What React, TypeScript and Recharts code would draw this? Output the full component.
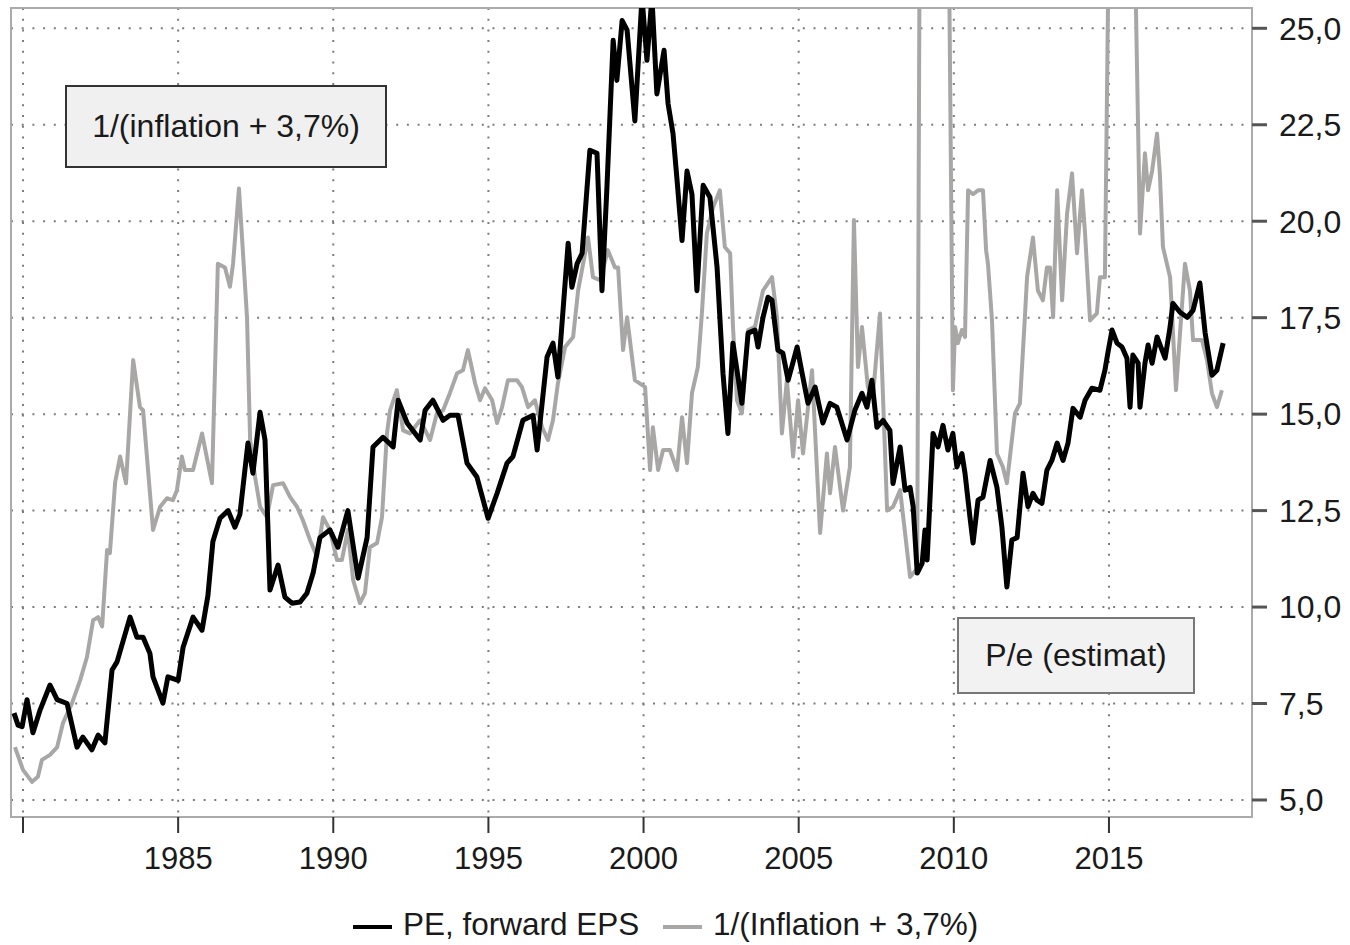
import React from "react";
import {
  LineChart, Line, XAxis, YAxis, CartesianGrid, ReferenceArea,
} from "recharts";

// PE, forward EPS (black)
const peDates = [
  1979.71, 1979.84, 1979.97, 1980.13, 1980.32, 1980.55, 1980.87, 1981.10, 1981.42, 1981.74,
  1981.93, 1982.22, 1982.42, 1982.64, 1982.87, 1983.03, 1983.45, 1983.67, 1983.87, 1984.09,
  1984.19, 1984.51, 1984.67, 1985.00, 1985.16, 1985.48, 1985.77, 1985.96, 1986.12, 1986.35,
  1986.61, 1986.83, 1986.99, 1987.25, 1987.41, 1987.64, 1987.80, 1987.96, 1988.22, 1988.44,
  1988.67, 1988.93, 1989.15, 1989.35, 1989.57, 1989.89, 1990.15, 1990.47, 1990.80, 1991.09,
  1991.28, 1991.60, 1991.93, 1992.09, 1992.38, 1992.80, 1992.96, 1993.21, 1993.54, 1993.76,
  1994.02, 1994.31, 1994.63, 1994.99, 1995.28, 1995.60, 1995.79, 1996.11, 1996.44, 1996.57,
  1996.89, 1997.08, 1997.24, 1997.57, 1997.69, 1997.86, 1998.02, 1998.27, 1998.50, 1998.66,
  1998.82, 1999.02, 1999.14, 1999.31, 1999.47, 1999.72, 1999.95, 2000.11, 2000.27, 2000.43,
  2000.66, 2000.79, 2000.95, 2001.08, 2001.24, 2001.40, 2001.56, 2001.72, 2001.92, 2002.14,
  2002.37, 2002.56, 2002.72, 2002.88, 2003.17, 2003.37, 2003.59, 2003.69, 2003.85, 2004.01,
  2004.14, 2004.33, 2004.49, 2004.66, 2004.95, 2005.11, 2005.30, 2005.53, 2005.78, 2006.01,
  2006.23, 2006.56, 2006.81, 2007.04, 2007.20, 2007.36, 2007.52, 2007.72, 2007.94, 2008.04,
  2008.27, 2008.43, 2008.59, 2008.69, 2008.82, 2008.98, 2009.07, 2009.14, 2009.33, 2009.49,
  2009.65, 2009.81, 2009.97, 2010.10, 2010.26, 2010.36, 2010.52, 2010.62, 2010.78, 2010.94,
  2011.17, 2011.39, 2011.55, 2011.71, 2011.87, 2012.04, 2012.23, 2012.39, 2012.55, 2012.68,
  2012.84, 2013.00, 2013.16, 2013.33, 2013.52, 2013.68, 2013.84, 2014.07, 2014.23, 2014.45,
  2014.71, 2014.87, 2014.97, 2015.10, 2015.26, 2015.42, 2015.58, 2015.68, 2015.77, 2015.94,
  2016.00, 2016.16, 2016.26, 2016.39, 2016.55, 2016.71, 2016.81, 2016.97, 2017.06, 2017.29,
  2017.52, 2017.71, 2017.93, 2018.10, 2018.32, 2018.48, 2018.68,
];
const peValues = [
  7.25, 6.94, 6.9, 7.6, 6.74, 7.33, 7.98, 7.6, 7.5, 6.37,
  6.63, 6.3, 6.68, 6.48, 8.37, 8.58, 9.74, 9.22, 9.22, 8.8,
  8.19, 7.51, 8.19, 8.1, 8.96, 9.74, 9.4, 10.3, 11.7, 12.3,
  12.5, 12.07, 12.4, 14.25, 13.47, 15.05, 14.33, 10.44, 11.09, 10.26,
  10.1, 10.13, 10.36, 10.88, 11.8, 12.0, 11.55, 12.5, 10.75, 11.8,
  14.15, 14.4, 14.15, 15.36, 14.77, 14.33, 15.1, 15.36, 14.84, 14.97,
  14.97, 13.73, 13.37, 12.3, 12.95, 13.73, 13.9, 14.84, 14.97, 14.07,
  16.48, 16.84, 15.96, 19.43, 18.29, 18.9, 19.17, 21.84, 21.76, 18.2,
  20.88, 24.69, 23.65, 25.2, 24.95, 22.6, 25.8, 24.17, 25.8, 23.3,
  24.43, 23.05, 22.27, 21.06, 19.5, 21.3, 20.7, 18.2, 20.93, 20.62,
  18.8, 16.06, 14.5, 16.84, 15.28, 17.1, 17.18, 16.74, 17.51, 18.03,
  17.95, 16.66, 16.58, 15.88, 16.74, 16.06, 15.28, 15.7, 14.77, 15.28,
  15.18, 14.33, 15.1, 15.54, 15.18, 15.88, 14.66, 14.84, 14.58, 13.2,
  14.15, 13.03, 13.1, 12.6, 10.88, 11.14, 12.0, 11.22, 14.5, 14.15,
  14.71, 14.07, 14.5, 13.63, 13.98, 13.47, 12.33, 11.66, 12.77, 12.85,
  13.8, 13.1, 12.07, 10.52, 11.74, 11.8, 13.47, 12.6, 12.95, 12.77,
  12.69, 13.55, 13.8, 14.25, 13.8, 14.25, 15.15, 14.92, 15.36, 15.67,
  15.62, 16.14, 16.61, 17.18, 16.84, 16.74, 16.45, 15.18, 16.53, 16.32,
  15.18, 16.32, 16.79, 16.32, 17.0, 16.66, 16.45, 17.26, 17.87, 17.64,
  17.51, 17.69, 18.4, 17.1, 16.01, 16.14, 16.84,
];

// 1/(Inflation + 3,7%) (grey)
const inflDates = [
  1979.74, 1980.00, 1980.29, 1980.48, 1980.61, 1980.87, 1981.10, 1981.29, 1981.58, 1981.84,
  1982.06, 1982.26, 1982.42, 1982.55, 1982.71, 1982.80, 1982.97, 1983.13, 1983.32, 1983.55,
  1983.77, 1983.87, 1984.19, 1984.42, 1984.64, 1984.83, 1984.96, 1985.12, 1985.22, 1985.48,
  1985.77, 1986.09, 1986.28, 1986.51, 1986.67, 1986.77, 1986.96, 1987.22, 1987.32, 1987.48,
  1987.64, 1987.86, 1988.06, 1988.38, 1988.61, 1988.83, 1989.02, 1989.25, 1989.48, 1989.67,
  1989.89, 1990.12, 1990.28, 1990.47, 1990.64, 1990.86, 1991.02, 1991.18, 1991.41, 1991.57,
  1991.73, 1991.83, 1992.05, 1992.25, 1992.47, 1992.80, 1993.12, 1993.34, 1993.54, 1993.76,
  1993.99, 1994.18, 1994.34, 1994.57, 1994.73, 1994.89, 1995.12, 1995.28, 1995.44, 1995.63,
  1995.92, 1996.08, 1996.28, 1996.50, 1996.73, 1996.92, 1997.08, 1997.24, 1997.47, 1997.73,
  1997.89, 1998.21, 1998.37, 1998.60, 1998.85, 1999.08, 1999.18, 1999.34, 1999.47, 1999.72,
  2000.05, 2000.21, 2000.30, 2000.47, 2000.63, 2000.85, 2001.08, 2001.24, 2001.40, 2001.56,
  2001.75, 2001.88, 2002.04, 2002.24, 2002.46, 2002.62, 2002.79, 2002.88, 2003.01, 2003.17,
  2003.37, 2003.59, 2003.85, 2004.14, 2004.30, 2004.46, 2004.62, 2004.82, 2004.98, 2005.14,
  2005.43, 2005.69, 2005.91, 2006.01, 2006.17, 2006.43, 2006.65, 2006.78, 2006.91, 2007.04,
  2007.23, 2007.39, 2007.62, 2007.85, 2008.04, 2008.27, 2008.59, 2008.82, 2008.91, 2009.81,
  2009.97, 2010.04, 2010.13, 2010.26, 2010.36, 2010.46, 2010.62, 2010.78, 2010.94, 2011.04,
  2011.10, 2011.23, 2011.39, 2011.58, 2011.71, 2011.81, 2011.97, 2012.13, 2012.29, 2012.36,
  2012.55, 2012.71, 2012.87, 2013.00, 2013.10, 2013.20, 2013.33, 2013.49, 2013.65, 2013.81,
  2013.97, 2014.13, 2014.23, 2014.39, 2014.61, 2014.71, 2014.87, 2015.03, 2015.77, 2016.00,
  2016.16, 2016.26, 2016.39, 2016.55, 2016.64, 2016.74, 2016.97, 2017.16, 2017.45, 2017.61,
  2017.71, 2018.00, 2018.16, 2018.32, 2018.48, 2018.64,
];
const inflValues = [
  6.37, 5.78, 5.47, 5.6, 6.04, 6.17, 6.37, 7.0, 7.51, 8.1,
  8.7, 9.66, 9.74, 9.5, 11.48, 11.4, 13.24, 13.9, 13.21, 16.4,
  15.18, 15.1, 12.0, 12.6, 12.82, 12.77, 13.03, 13.9, 13.55, 13.55,
  14.5, 13.21, 18.9, 18.8, 18.3, 18.9, 20.85, 17.5, 14.33, 13.37,
  12.6, 12.33, 13.16, 13.21, 12.85, 12.6, 12.25, 11.74, 11.3, 12.33,
  12.0, 11.22, 11.22, 12.0, 10.7, 10.1, 10.36, 11.55, 11.66, 12.33,
  14.5, 15.1, 15.62, 14.58, 14.5, 14.84, 14.33, 15.02, 15.1, 15.55,
  16.06, 16.14, 16.66, 15.8, 15.36, 15.67, 15.36, 14.77, 15.18, 15.88,
  15.88, 15.7, 15.18, 15.36, 14.66, 14.33, 14.84, 15.8, 16.74, 17.0,
  18.2, 19.58, 18.55, 18.47, 19.25, 18.8, 18.8, 16.66, 17.51, 15.88,
  15.7, 13.55, 14.66, 13.55, 14.07, 14.07, 13.55, 14.92, 13.73, 15.54,
  16.22, 17.61, 19.68, 20.36, 20.8, 19.33, 19.17, 17.3, 15.36, 15.02,
  17.18, 17.26, 18.2, 18.55, 17.51, 14.5, 15.88, 13.9, 15.36, 13.98,
  16.14, 11.92, 13.98, 12.95, 14.15, 12.5, 13.63, 20.03, 16.22, 17.26,
  15.7, 15.44, 17.61, 12.5, 12.6, 13.03, 10.78, 11.0, 30, 30,
  15.62, 17.26, 16.84, 17.18, 17.0, 20.8, 20.7, 20.8, 20.8, 19.25,
  18.9, 17.43, 13.98, 13.63, 13.21, 13.9, 15.02, 15.28, 17.51, 18.55,
  19.58, 18.2, 17.95, 18.8, 18.8, 17.51, 20.8, 17.95, 20.2, 21.24,
  19.17, 20.8, 19.68, 17.43, 17.61, 18.55, 18.55, 30, 30, 19.68,
  21.76, 20.8, 21.3, 22.27, 21.24, 19.33, 18.55, 15.62, 18.9, 18.2,
  16.92, 16.92, 16.4, 15.54, 15.18, 15.62,
];

const xTicks = [1980, 1985, 1990, 1995, 2000, 2005, 2010, 2015];
const yTicks = [5, 7.5, 10, 12.5, 15, 17.5, 20, 22.5, 25];

const X_MIN = 1979.613;
const X_MAX = 2019.61;
const Y_MIN = 4.559;
const Y_MAX = 25.526;

const peData = peDates.map((t, i) => ({ t, v: peValues[i] }));
const inflData = inflDates.map((t, i) => ({ t, v: inflValues[i] }));

const FONT = "'Liberation Sans', Arial, sans-serif";
const GREY = "#a9a6a6";

const boxStyle: React.CSSProperties = {
  position: "absolute",
  boxSizing: "border-box",
  display: "flex",
  alignItems: "center",
  justifyContent: "center",
  background: "#f0f0f0",
  fontSize: 32,
  color: "#1a1a1a",
};

const legendText: React.CSSProperties = {
  position: "absolute", top: 909, fontSize: 31.5, lineHeight: "31px",
  color: "#1a1a1a", whiteSpace: "nowrap",
};

export default function App() {
  return (
    <div style={{
      position: "absolute", left: 0, top: 0, width: 1350, height: 945,
      overflow: "hidden", background: "#fff", fontFamily: FONT,
    }}>
      <LineChart
        width={1350} height={945}
        margin={{ top: 8, left: 11, right: 0, bottom: 68 }}
      >
        <CartesianGrid stroke="#7c7c7c" strokeDasharray="2 8.7" strokeWidth={2} />
        <XAxis
          type="number" dataKey="t" domain={[X_MIN, X_MAX]} allowDataOverflow
          ticks={xTicks} height={60} axisLine={false}
          tickSize={16} tickMargin={14}
          tickLine={{ stroke: "#333", strokeWidth: 2 }}
          tickFormatter={(v: number) => (v === 1980 ? "" : String(v))}
          tick={{ fill: "#1a1a1a", fontSize: 31, fontFamily: FONT }}
        />
        <YAxis
          orientation="right" type="number" domain={[Y_MIN, Y_MAX]} allowDataOverflow
          ticks={yTicks} width={98} axisLine={false}
          tickSize={15} tickMargin={12}
          tickLine={{ stroke: "#555", strokeWidth: 3 }}
          tickFormatter={(v: number) => v.toFixed(1).replace(".", ",")}
          tick={{ fill: "#1a1a1a", fontSize: 32, fontFamily: FONT }}
        />
        <Line
          data={inflData} dataKey="v" type="linear" stroke={GREY} strokeWidth={4}
          dot={false} isAnimationActive={false} strokeLinejoin="round"
        />
        <Line
          data={peData} dataKey="v" type="linear" stroke="#000" strokeWidth={5}
          dot={false} isAnimationActive={false} strokeLinejoin="round"
        />
        <ReferenceArea
          x1={X_MIN} x2={X_MAX} y1={Y_MIN} y2={Y_MAX}
          fill="none" fillOpacity={0} stroke="#ababab" strokeWidth={2} ifOverflow="visible"
        />
      </LineChart>

      <div style={{ ...boxStyle, left: 65, top: 85, width: 322, height: 83, border: "2px solid #333" }}>
        1/(inflation + 3,7%)
      </div>
      <div style={{ ...boxStyle, left: 957, top: 617, width: 238, height: 77, border: "2px solid #777", background: "#f2f2f2" }}>
        P/e (estimat)
      </div>

      <div style={{ position: "absolute", left: 353, top: 925, width: 39, height: 4, background: "#000" }} />
      <div style={{ ...legendText, left: 403 }}>PE, forward EPS</div>
      <div style={{ position: "absolute", left: 663, top: 925, width: 39, height: 4, background: GREY }} />
      <div style={{ ...legendText, left: 713 }}>1/(Inflation + 3,7%)</div>
    </div>
  );
}
